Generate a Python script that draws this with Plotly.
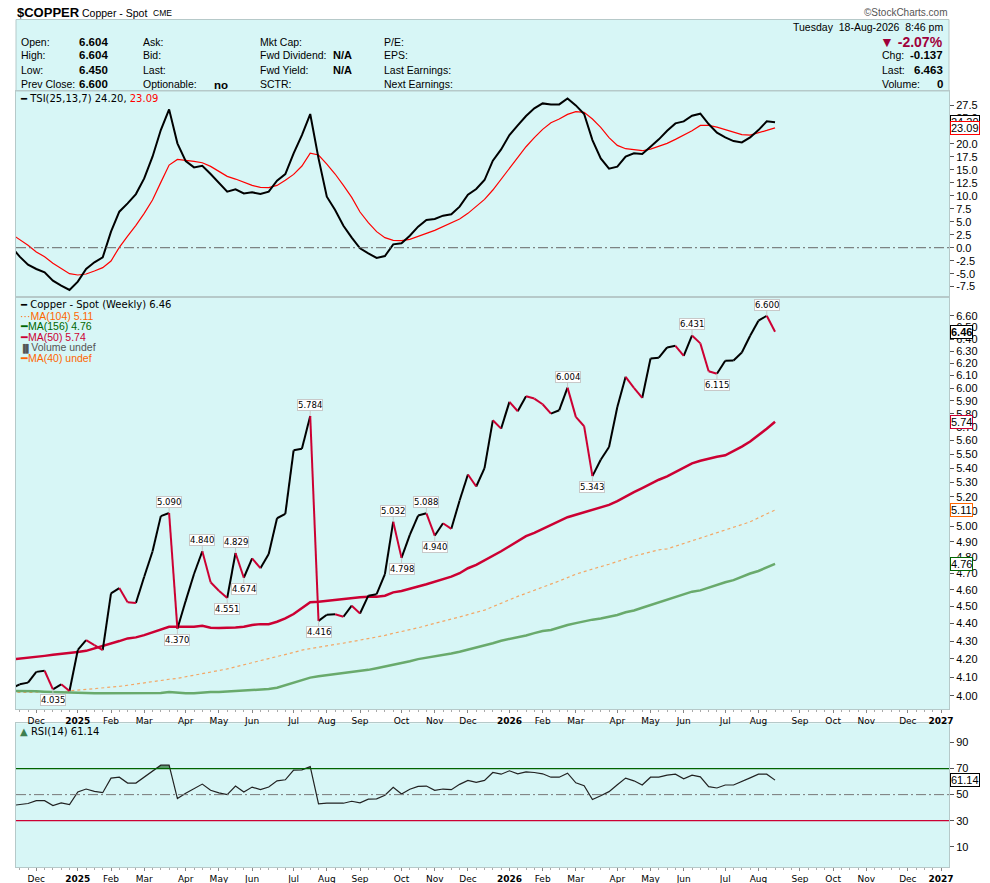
import math
import pandas as pd
import plotly.graph_objects as go

# weekly bars (week start Monday); the first one sits just left of the plot edge
weeks = pd.date_range("2024-11-11", periods=93, freq="7D")
dates = [d.strftime("%Y-%m-%d") for d in weeks]

close = [4.040, 4.062, 4.071, 4.129, 4.135, 4.035, 4.062, 4.026, 4.250, 4.305,
         4.277, 4.249, 4.579, 4.611, 4.525, 4.521, 4.680, 4.838, 5.069, 5.090,
         4.370, 4.534, 4.697, 4.840, 4.646, 4.595, 4.551, 4.829, 4.674, 4.795,
         4.733, 4.823, 5.055, 5.084, 5.528, 5.540, 5.784, 4.416, 4.452, 4.455,
         4.440, 4.505, 4.459, 4.565, 4.574, 4.697, 5.032, 4.798, 4.945, 5.073,
         5.088, 4.940, 5.022, 4.985, 5.175, 5.355, 5.271, 5.400, 5.751, 5.688,
         5.892, 5.820, 5.936, 5.918, 5.874, 5.802, 5.828, 6.004, 5.777, 5.706,
         5.343, 5.460, 5.552, 5.853, 6.090, 6.002, 5.923, 6.239, 6.245, 6.330,
         6.344, 6.261, 6.431, 6.364, 6.135, 6.115, 6.220, 6.222, 6.288, 6.428,
         6.557, 6.600, 6.463]

ma50 = [4.197, 4.201, 4.206, 4.212, 4.217, 4.223, 4.227, 4.230, 4.238, 4.245,
        4.258, 4.270, 4.287, 4.300, 4.315, 4.321, 4.334, 4.349, 4.365, 4.382,
        4.382, 4.382, 4.382, 4.388, 4.376, 4.374, 4.374, 4.378, 4.382, 4.392,
        4.397, 4.397, 4.411, 4.430, 4.456, 4.489, 4.525, 4.529, 4.535, 4.539,
        4.543, 4.549, 4.555, 4.559, 4.559, 4.565, 4.585, 4.593, 4.605, 4.620,
        4.634, 4.650, 4.663, 4.681, 4.702, 4.733, 4.754, 4.781, 4.812, 4.840,
        4.872, 4.904, 4.937, 4.959, 4.985, 5.014, 5.038, 5.062, 5.078, 5.094,
        5.112, 5.125, 5.145, 5.170, 5.202, 5.232, 5.260, 5.290, 5.318, 5.342,
        5.372, 5.403, 5.434, 5.453, 5.470, 5.482, 5.492, 5.521, 5.555, 5.592,
        5.638, 5.688, 5.740]

ma104 = [4.018, 4.018, 4.018, 4.019, 4.019, 4.021, 4.023, 4.027, 4.028, 4.034,
         4.037, 4.041, 4.046, 4.051, 4.057, 4.064, 4.069, 4.078, 4.084, 4.089,
         4.094, 4.102, 4.111, 4.118, 4.127, 4.136, 4.145, 4.156, 4.169, 4.180,
         4.191, 4.202, 4.212, 4.223, 4.236, 4.249, 4.258, 4.266, 4.275, 4.281,
         4.288, 4.296, 4.305, 4.313, 4.323, 4.332, 4.344, 4.353, 4.365, 4.376,
         4.388, 4.401, 4.413, 4.425, 4.438, 4.452, 4.466, 4.479, 4.499, 4.521,
         4.541, 4.561, 4.579, 4.597, 4.616, 4.634, 4.654, 4.675, 4.696, 4.712,
         4.729, 4.743, 4.758, 4.773, 4.792, 4.809, 4.823, 4.836, 4.849, 4.855,
         4.872, 4.891, 4.909, 4.926, 4.941, 4.959, 4.976, 4.991, 5.011, 5.031,
         5.058, 5.082, 5.110]

ma156 = [4.027, 4.027, 4.025, 4.025, 4.023, 4.021, 4.019, 4.018, 4.016, 4.014,
         4.014, 4.014, 4.014, 4.014, 4.014, 4.014, 4.014, 4.014, 4.016, 4.021,
         4.016, 4.014, 4.014, 4.018, 4.021, 4.021, 4.023, 4.025, 4.027, 4.030,
         4.032, 4.037, 4.044, 4.057, 4.071, 4.085, 4.098, 4.105, 4.111, 4.114,
         4.120, 4.125, 4.132, 4.140, 4.149, 4.158, 4.171, 4.178, 4.187, 4.199,
         4.206, 4.215, 4.223, 4.230, 4.240, 4.251, 4.264, 4.275, 4.288, 4.302,
         4.311, 4.321, 4.332, 4.345, 4.357, 4.363, 4.378, 4.392, 4.403, 4.415,
         4.423, 4.430, 4.438, 4.450, 4.466, 4.477, 4.493, 4.509, 4.525, 4.541,
         4.555, 4.573, 4.589, 4.597, 4.614, 4.630, 4.646, 4.659, 4.681, 4.700,
         4.716, 4.736, 4.760]

tsi = [0.20, -1.73, -3.27, -4.10, -4.75, -6.35, -7.31, -8.15, -6.54, -4.10,
       -2.82, -1.86, 3.09, 6.94, 8.55, 10.34, 13.36, 17.54, 22.67, 26.66,
       20.11, 16.70, 15.48, 15.80, 14.20, 12.40, 10.79, 11.24, 10.47, 10.67,
       10.34, 10.79, 12.91, 14.20, 18.18, 21.71, 25.76, 17.22, 9.83, 7.26,
       4.24, 1.93, -0.12, -1.08, -1.98, -1.60, 0.65, 0.84, 2.32, 4.05,
       5.34, 5.53, 6.17, 6.43, 7.91, 10.22, 11.31, 13.04, 16.77, 18.95,
       21.71, 23.57, 25.37, 26.85, 27.81, 27.62, 27.62, 28.77, 27.43, 25.76,
       20.75, 17.22, 15.23, 15.61, 17.54, 18.18, 18.05, 19.46, 20.88, 22.55,
       23.96, 24.34, 25.44, 25.82, 23.83, 22.16, 21.26, 20.55, 20.30, 21.26,
       22.67, 24.35, 24.20]

tsi_signal = [2.64, 1.55, 0.46, -0.83, -1.73, -3.01, -4.04, -5.00, -5.26, -5.07,
              -4.49, -3.85, -2.56, 0.07, 2.25, 4.31, 6.62, 9.19, 12.59, 15.93,
              17.02, 16.90, 16.64, 16.38, 15.67, 14.71, 13.75, 13.23, 12.66, 12.01,
              11.63, 11.57, 12.01, 12.98, 14.13, 15.74, 18.24, 17.86, 16.12, 14.20,
              12.02, 9.70, 6.88, 4.82, 3.09, 1.93, 1.42, 1.36, 1.61, 2.13,
              2.77, 3.35, 4.05, 4.69, 5.53, 6.62, 7.97, 9.32, 11.12, 13.23,
              15.23, 17.34, 19.46, 21.20, 22.80, 24.09, 24.79, 25.69, 26.21, 26.08,
              24.79, 23.19, 21.20, 19.72, 19.08, 18.89, 18.69, 19.01, 19.53, 20.11,
              20.88, 21.65, 22.55, 23.57, 23.57, 23.25, 22.80, 22.29, 21.78, 21.71,
              22.10, 22.60, 23.09]

rsi = [41.6, 42.4, 43.2, 45.4, 45.4, 41.6, 43.7, 42.4, 52.0, 54.3,
       52.5, 51.5, 62.7, 63.4, 58.9, 58.9, 63.4, 67.7, 72.6, 72.6,
       47.0, 51.0, 54.8, 58.1, 53.3, 51.3, 50.0, 56.6, 52.0, 55.8,
       53.8, 55.8, 60.6, 61.4, 68.8, 69.0, 71.5, 42.9, 43.4, 43.4,
       43.4, 44.9, 43.7, 46.5, 46.7, 49.5, 55.6, 50.5, 54.1, 56.3,
       56.6, 53.3, 54.3, 53.8, 57.9, 60.9, 59.4, 60.9, 67.0, 65.7,
       68.3, 66.0, 67.5, 67.0, 66.0, 63.4, 63.4, 66.5, 59.1, 56.8,
       46.2, 49.2, 52.3, 57.6, 62.7, 60.6, 57.4, 63.4, 63.4, 65.0,
       65.7, 62.2, 65.0, 63.7, 56.1, 55.1, 57.4, 57.4, 59.9, 62.9,
       65.7, 65.7, 61.14]

peaks = [19, 23, 27, 36, 46, 50, 67, 82, 91]
troughs = [5, 20, 26, 28, 37, 47, 51, 70, 85]

month_ticks = ["2024-12-02", "2025-01-06", "2025-02-03", "2025-03-03", "2025-04-07",
               "2025-05-05", "2025-06-02", "2025-07-07", "2025-08-04", "2025-09-01",
               "2025-10-06", "2025-11-03", "2025-12-01", "2026-01-05", "2026-02-02",
               "2026-03-02", "2026-04-06", "2026-05-04", "2026-06-01", "2026-07-06",
               "2026-08-03", "2026-09-07", "2026-10-05", "2026-11-02", "2026-12-07",
               "2027-01-04"]
month_labels = ["Dec", "<b>2025</b>", "Feb", "Mar", "Apr", "May", "Jun", "Jul", "Aug",
                "Sep", "Oct", "Nov", "Dec", "<b>2026</b>", "Feb", "Mar", "Apr", "May",
                "Jun", "Jul", "Aug", "Sep", "Oct", "Nov", "Dec", "<b>2027</b>"]

price_ticks = [4.00, 4.10, 4.20, 4.30, 4.40, 4.50, 4.60, 4.70, 4.80, 4.90, 5.00, 5.10,
               5.20, 5.30, 5.40, 5.50, 5.60, 5.70, 5.80, 5.90, 6.00, 6.10, 6.20, 6.30,
               6.40, 6.50, 6.60]
price_labels = [f"{v:.2f}" for v in price_ticks]
tsi_ticks = [-7.5, -5.0, -2.5, 0.0, 2.5, 5.0, 7.5, 10.0, 12.5, 15.0, 17.5, 20.0, 22.5, 25.0, 27.5]
tsi_labels = [f"{v:.1f}".replace("-0.0", "0.0") for v in tsi_ticks]
rsi_ticks = [10, 30, 50, 70, 90]

# header block
header_rows = [("Open:", "6.604", "Ask:", "", "Mkt Cap:", "", "P/E:"),
               ("High:", "6.604", "Bid:", "", "Fwd Dividend:", "N/A", "EPS:"),
               ("Low:", "6.450", "Last:", "", "Fwd Yield:", "N/A", "Last Earnings:"),
               ("Prev Close:", "6.600", "Optionable:", "no", "SCTR:", "", "Next Earnings:")]
quote_rows = [("Chg:", "-0.137"), ("Last:", "6.463"), ("Volume:", "0")]

W, H = 990, 883
PL, PR, PT, PB = 16, 949, 91, 867          # plot area in page pixels
BG = "#d7f6f6"
FRAME = "#b6c9c9"
RED = "#cc0033"
HEAD = "Liberation Sans, Arial, sans-serif"
VERD = "DejaVu Sans, Verdana, sans-serif"


def px(x):
    return (x - PL) / (PR - PL)


def py(y):
    return (PB - y) / (PB - PT)


fig = go.Figure()

# TSI panel
fig.add_trace(go.Scatter(x=dates, y=tsi_signal, mode="lines", line=dict(color="#ff0000", width=1.2),
                         xaxis="x3", yaxis="y3"))
fig.add_trace(go.Scatter(x=dates, y=tsi, mode="lines", line=dict(color="black", width=2),
                         xaxis="x3", yaxis="y3"))

# moving averages
fig.add_trace(go.Scatter(x=dates, y=ma104, mode="lines", line=dict(color="#f3a766", width=1.2, dash="dot"),
                         xaxis="x2", yaxis="y2"))
fig.add_trace(go.Scatter(x=dates, y=ma156, mode="lines", line=dict(color="#69aa6c", width=2.5),
                         xaxis="x2", yaxis="y2"))
fig.add_trace(go.Scatter(x=dates, y=ma50, mode="lines", line=dict(color=RED, width=2.5),
                         xaxis="x2", yaxis="y2"))

# price line: black on up weeks, red on down weeks
up_x, up_y, dn_x, dn_y = [], [], [], []
for i in range(1, len(close)):
    if close[i] > close[i - 1]:
        up_x += [dates[i - 1], dates[i], None]
        up_y += [close[i - 1], close[i], None]
    else:
        dn_x += [dates[i - 1], dates[i], None]
        dn_y += [close[i - 1], close[i], None]
fig.add_trace(go.Scatter(x=up_x, y=up_y, mode="lines", line=dict(color="black", width=2),
                         xaxis="x2", yaxis="y2"))
fig.add_trace(go.Scatter(x=dn_x, y=dn_y, mode="lines", line=dict(color=RED, width=2),
                         xaxis="x2", yaxis="y2"))

# RSI: shade the part above 70
fill_x, fill_y = [], []
for i in range(len(rsi) - 1):
    a, b = rsi[i], rsi[i + 1]
    if a <= 70 and b <= 70:
        continue
    t0, t1 = weeks[i], weeks[i + 1]
    ts, ya = (t0 + (t1 - t0) * ((70 - a) / (b - a)), 70) if a < 70 else (t0, a)
    te, yb = (t0 + (t1 - t0) * ((a - 70) / (a - b)), 70) if b < 70 else (t1, b)
    ts, te = ts.strftime("%Y-%m-%d %H:%M"), te.strftime("%Y-%m-%d %H:%M")
    fill_x += [ts, ts, te, te, None]
    fill_y += [70, ya, yb, 70, None]
fig.add_trace(go.Scatter(x=fill_x, y=fill_y, mode="lines", fill="toself", fillcolor="#5b9a6c",
                         line=dict(width=0), xaxis="x", yaxis="y"))
fig.add_trace(go.Scatter(x=dates, y=rsi, mode="lines", line=dict(color="#222222", width=1.2),
                         xaxis="x", yaxis="y"))

# reference lines
fig.add_shape(type="line", xref="x3 domain", yref="y3", x0=0, x1=1, y0=0, y1=0,
              line=dict(color="#666666", width=1, dash="10px,3px,2px,3px"))
fig.add_shape(type="line", xref="x domain", yref="y", x0=0, x1=1, y0=50, y1=50,
              line=dict(color="#777777", width=1, dash="10px,3px,2px,3px"))
fig.add_shape(type="line", xref="x domain", yref="y", x0=0, x1=1, y0=70, y1=70,
              line=dict(color="#006400", width=1.3))
fig.add_shape(type="line", xref="x domain", yref="y", x0=0, x1=1, y0=30, y1=30,
              line=dict(color=RED, width=1.2))

# header box
fig.add_shape(type="rect", xref="paper", yref="paper", x0=0, x1=1, y0=1, y1=py(19.5),
              fillcolor=BG, line=dict(color=FRAME, width=1), layer="below")

x_range = ["2024-11-14 21:00", "2027-01-10 17:00"]
date_font = dict(family=VERD, size=9, color="black")
axis_font = dict(family=HEAD, size=11, color="black")


def xaxis(anchor, labels, match=True):
    d = dict(type="date", range=x_range, anchor=anchor, tickmode="array", tickvals=month_ticks,
             ticktext=month_labels, showticklabels=labels, ticks="outside" if labels else "",
             ticklen=3, tickcolor="#888888", tickfont=date_font, showgrid=False, zeroline=False,
             showline=True, mirror=True, linecolor=FRAME, automargin=False)
    if labels:
        d["minor"] = dict(ticks="outside", ticklen=2, tickcolor="#aaaaaa", tickmode="linear",
                          tick0="2024-11-11", dtick=7 * 86400000)
    if match:
        d["matches"] = "x"
    return d


def yaxis(anchor, domain, **kw):
    d = dict(anchor=anchor, domain=domain, side="right", ticks="outside", ticklen=4,
             tickcolor="#555555", tickfont=axis_font, showgrid=False, zeroline=False,
             showline=True, mirror=True, linecolor=FRAME, tickmode="array", automargin=False)
    d.update(kw)
    return d


fig.update_layout(
    width=W, height=H, autosize=False,
    margin=dict(l=PL, r=W - PR, t=PT, b=H - PB),
    paper_bgcolor="white", plot_bgcolor=BG,
    showlegend=False, hovermode=False,
    xaxis=xaxis("y", True, match=False),
    xaxis2=xaxis("y2", True),
    xaxis3=xaxis("y3", False),
    yaxis=yaxis("x", [0, py(723.3)], range=[-5.6, 104.8], tickvals=rsi_ticks,
                ticktext=[str(v) for v in rsi_ticks]),
    yaxis2=yaxis("x2", [py(709), py(297)], type="log",
                 range=[math.log10(3.932), math.log10(6.765)],
                 tickvals=price_ticks, ticktext=price_labels),
    yaxis3=yaxis("x3", [py(297), 1], range=[-9.5, 30.2], tickvals=tsi_ticks, ticktext=tsi_labels),
)


def text(x, y, s, size=10.5, color="black", anchor="left", family=HEAD):
    fig.add_annotation(xref="paper", yref="paper", x=px(x), y=py(y), text=s, showarrow=False,
                       xanchor=anchor, yanchor="middle", borderpad=0,
                       font=dict(family=family, size=size, color=color))


# title line
text(16, 13, "<b>$COPPER</b>", size=13)
text(81, 13, "Copper - Spot", size=10.5)
text(152, 13.5, "CME", size=8.5)
text(949, 12.5, "\u00a9StockCharts.com", size=10, color="#555555", anchor="right")

# quote block
row_y = [41.7, 55.5, 70, 84.3]
for y, row in zip(row_y, header_rows):
    text(20, y, row[0])
    text(78, y, f"<b>{row[1]}</b>", size=11.5)
    text(142, y, row[2])
    if row[3]:
        text(213, y + 1, f"<b>{row[3]}</b>", size=11.5)
    text(259, y, row[4])
    if row[5]:
        text(332, y, f"<b>{row[5]}</b>", size=11)
    text(383, y, row[6])
text(944, 26.5, "Tuesday  18-Aug-2026  8:46 pm", anchor="right")
text(944, 41.5, "<b>\u25bc -2.07%</b>", size=14, color="#a0003a", anchor="right")
for y, (lab, val) in zip(row_y[1:], quote_rows):
    text(881, y, lab)
    text(944, y, f"<b>{val}</b>", size=11.5, anchor="right")

# panel legends
text(19, 98.3, "\u2501 TSI(25,13,7) 24.20, <span style='color:#ff0000'>23.09</span>", size=10, family=VERD)
text(19, 304.3, "\u2501 Copper - Spot (Weekly) 6.46", size=10, family=VERD)
legend_rows = [("\u00b7\u00b7\u00b7MA(104) 5.11", "#ff6600"), ("\u2501MA(156) 4.76", "#006600"),
               ("\u2501MA(50) 5.74", RED), ("<span style='font-size:8px'>\u2590\u258c</span>Volume undef", "#555555"),
               ("\u2501MA(40) undef", "#ff6600")]
for j, (s, c) in enumerate(legend_rows):
    text(19, 315.7 + j * 10.6, s, size=10.5, color=c)
text(19, 731, "<span style='color:#3f7f50'>\u25b2</span> RSI(14) 61.14", size=10, family=VERD)

# peak / trough labels
for k in peaks + troughs:
    fig.add_annotation(xref="x2", yref="y2", x=dates[k], y=math.log10(close[k]),
                       text=f"{close[k]:.3f}", showarrow=True, arrowhead=0, arrowwidth=1,
                       arrowcolor="#c8c8c8", ax=0, ay=-11 if k in peaks else 11,
                       bgcolor="white", bordercolor="#c8c8c8", borderwidth=1, borderpad=0,
                       font=dict(family=VERD, size=8.5, color="black"))


# last-value boxes on the right axis
def value_box(yref, y, s, color):
    fig.add_annotation(xref="paper", yref=yref, x=1, y=y, text=s, showarrow=False,
                       xanchor="left", yanchor="middle", xshift=1, bgcolor="white",
                       bordercolor=color, borderwidth=1, borderpad=0,
                       font=dict(family=HEAD, size=11, color="black"))


value_box("y3", tsi[-1], f"{tsi[-1]:.2f}", "black")
value_box("y3", tsi_signal[-1], f"{tsi_signal[-1]:.2f}", "#ff0000")
value_box("y2", math.log10(ma156[-1]), f"{ma156[-1]:.2f}", "#006600")
value_box("y2", math.log10(ma104[-1]), f"{ma104[-1]:.2f}", "#ff6600")
value_box("y2", math.log10(ma50[-1]), f"{ma50[-1]:.2f}", RED)
value_box("y2", math.log10(close[-1]), f"<b>{close[-1]:.2f}</b>", "black")
value_box("y", rsi[-1], f"{rsi[-1]:.2f}", "black")

# drop the default page margin so the 990x883 figure fills the window exactly
fig.write_html("out.html", config={"displayModeBar": False},
               post_script="document.body.style.margin='0';")
